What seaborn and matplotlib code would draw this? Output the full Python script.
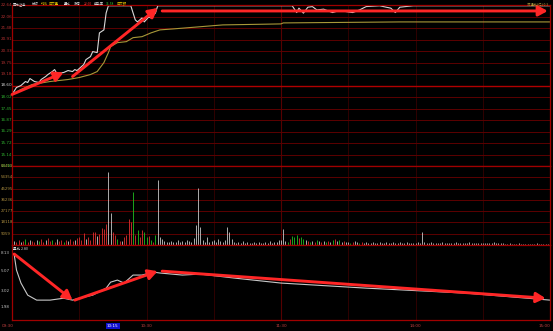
import matplotlib
matplotlib.use("Agg")
import matplotlib.pyplot as plt
import seaborn as sns
import pandas as pd

sns.set_style("dark", {"axes.facecolor": "black", "figure.facecolor": "black"})
plt.rcParams['font.family'] = ['Noto Sans CJK SC', 'DejaVu Sans']

# ---------------- data ----------------
prev_close = 18.60
price_step = 0.577

price_t = [0, 2, 4, 6, 7, 8, 10, 12, 13, 15, 16, 18, 19, 20, 23, 25, 27, 28, 29, 32,
           33, 35, 36, 38, 39, 41, 42, 43, 53, 55, 56, 58, 59, 61, 62, 64, 65, 125, 127, 128,
           130, 132, 134, 136, 139, 143, 146, 152, 155, 158, 164, 169, 171, 173, 179, 240]
price_v = [18.15, 18.50, 18.60, 18.80, 18.75, 18.95, 18.80, 18.75, 18.90, 19.05,
           19.15, 19.30, 19.40, 19.20, 19.25, 19.35, 19.30, 19.40, 19.35, 19.65,
           19.90, 20.05, 20.30, 20.25, 21.24, 21.39, 22.24, 22.60, 22.60, 21.89,
           21.79, 21.99, 21.79, 22.04, 21.99, 22.24, 22.60, 22.60, 22.26, 22.48,
           22.23, 22.53, 22.56, 22.39, 22.43, 22.26, 22.36, 22.26, 22.39, 22.56,
           22.60, 22.48, 22.26, 22.53, 22.60, 22.60]

avg_t = [0, 4, 9, 17, 25, 30, 35, 38, 41, 43, 44, 47, 51, 54, 58, 62, 66, 72, 83, 94, 120, 121, 173, 240]
avg_v = [18.15, 18.40, 18.65, 18.80, 18.90, 19.00, 19.15, 19.30, 19.75, 20.25, 20.55, 20.75,
         20.80, 21.00, 21.05, 21.24, 21.39, 21.44, 21.54, 21.64, 21.69, 21.74, 21.79, 21.79]

# volume per minute, in hundreds of lots
volume_hundreds = [
    48, 32, 24, 40, 24, 32, 48, 24, 40, 32,
    24, 40, 32, 48, 24, 40, 56, 32, 40, 24,
    48, 32, 40, 24, 40, 32, 48, 32, 40, 56,
    64, 40, 96, 48, 64, 40, 104, 104, 72, 88,
    136, 128, 168, 586, 257, 104, 80, 48, 32, 32,
    64, 80, 209, 185, 426, 80, 120, 64, 120, 104,
    64, 72, 40, 24, 80, 522, 64, 48, 32, 24,
    24, 32, 24, 24, 40, 24, 32, 24, 40, 32,
    24, 56, 161, 458, 145, 40, 24, 64, 24, 32,
    40, 24, 48, 32, 24, 40, 145, 104, 48, 24,
    16, 24, 16, 32, 16, 24, 16, 16, 24, 16,
    24, 16, 16, 24, 16, 32, 16, 24, 24, 40,
    40, 128, 32, 24, 48, 72, 64, 80, 56, 64,
    48, 40, 32, 24, 32, 24, 40, 32, 24, 32,
    24, 32, 24, 40, 48, 32, 40, 24, 32, 24,
    24, 16, 24, 32, 24, 16, 24, 16, 24, 16,
    16, 24, 16, 16, 24, 16, 16, 24, 16, 16,
    24, 16, 16, 24, 16, 16, 24, 16, 16, 16,
    16, 24, 16, 104, 24, 16, 16, 24, 16, 16,
    16, 16, 24, 16, 16, 16, 16, 16, 24, 16,
    16, 16, 16, 16, 24, 16, 16, 16, 16, 16,
    16, 16, 16, 16, 16, 24, 16, 16, 16, 16,
    8, 8, 16, 8, 8, 8, 16, 8, 8, 8,
    8, 8, 8, 8, 16, 8, 8, 8, 8, 8, 24]
volume_dir = ("rwrrwrgrwr" "rwgrrwrrgr" "wrrgrwrrwr" "rrrwrrrrwr" "rrrwwrrgrw"
              "rrrrgrgrrg" "grgrgwwwww" "wwwwwwwwww" "wwwwwwwwww" "wwwwwwwwww"
              "wwwwwwwwww" "wwwwwwwwww" "wwwgrgggrg" "gwrgwrgwrw" "grwgrwgwrw"
              "wgrwwgrwww" "wwwwwwwwww" "wwwwwwwwww" "wwwwwwwwww" "wwwwwwwwww"
              "wwwwwwwwww" "wwwwwwwwww" "wwwwwwwwww" "wwwwwwwwwww")
volume_max = 634.13

ratio_t = [0, 1, 2, 4, 7, 11, 17, 23, 27, 30, 36, 42, 44, 47, 50, 54, 58, 63, 66, 76, 84, 99, 120, 158, 203, 240]
ratio_v = [8.1, 7.7, 5.2, 3.7, 2.7, 2.37, 2.37, 2.49, 2.37, 2.49, 2.70, 3.24, 3.79, 4.00, 3.70,
           4.56, 4.56, 4.93, 4.81, 4.56, 4.68, 4.22, 3.70, 3.24, 2.84, 2.37]
ratio_ticks = [1.98, 3.02, 5.07, 8.13]

time_ticks = [0, 45, 60, 120, 180, 240]
time_labels = ["09:30", "10:15", "10:30", "11:30", "14:00", "15:00"]

header_items = [("国元证券", "#d8d8d8"), ("分时", "#d8d8d8"), ("均线", "#e0c000"),
                ("成交量", "#e0c000"), ("量比", "#d8d8d8"), ("涨停", "#d8d8d8"),
                ("22.60", "#ff3030"), ("换手率", "#d8d8d8"), ("11.58", "#30d030"),
                ("成交额", "#e0c000")]

# annotation arrows (tail, head) in data units
price_arrows = [((0, 18.15), (23, 19.25)), ((27, 19.05), (65, 22.49)), ((67, 22.34), (239, 22.34))]
ratio_arrows = [((1, 7.9), (27, 2.37)), ((28, 2.37), (65, 5.05)), ((67, 5.05), (238, 2.49))]

# ---------------- layout ----------------
W, H = 553, 331
fig = plt.figure(figsize=(W / 100, H / 100), dpi=100, facecolor="black")


def rect(top, bottom):
    return [12 / W, 1 - bottom / H, 538 / W, (bottom - top) / H]


axp = fig.add_axes(rect(5, 166))
axv = fig.add_axes(rect(166, 245))
axr = fig.add_axes(rect(245, 320))

GRID = "#5c0000"
BORDER = "#a00000"
VGRID = "#360000"
for ax in (axp, axv, axr):
    ax.set_facecolor("black")
    ax.set_xlim(0, 240)
    ax.set_xticks([])
    ax.set_yticks([])
    ax.grid(False)
    for s in ax.spines.values():
        s.set_color(BORDER)
        s.set_linewidth(0.9)
    for m in [30, 60, 90, 150, 180, 210]:
        ax.axvline(m, color=VGRID, lw=0.6, zorder=0)
    ax.axvline(120, color="#560000", lw=0.8, zorder=0)

# ---- price panel ----
levels = [prev_close + price_step * k for k in range(-7, 8)]
axp.set_ylim(levels[0], levels[-1])
ytr = axp.get_yaxis_transform()
for k, lv in zip(range(-7, 8), levels):
    if k == 0:
        axp.axhline(lv, color="#b00000", lw=1.0, zorder=0)
        col = "#d0d0d0"
    else:
        axp.axhline(lv, color=GRID, lw=0.7, zorder=0)
        col = "#b03030" if k > 0 else "#30b030"
    axp.text(-11.5 / 538, lv, f"{lv:.2f}", transform=ytr, ha="left", va="center",
             fontsize=3.0, color=col, family=["DejaVu Sans"])

sns.lineplot(x=avg_t, y=avg_v, ax=axp, color="#a89838", lw=0.8, estimator=None, sort=False)
sns.lineplot(x=price_t, y=price_v, ax=axp, color="#d8d8d8", lw=0.8, estimator=None, sort=False)
axp.set_ylim(levels[0], levels[-1])
axp.set_xlim(0, 240)

# header
xpos = [13, 32, 41, 49, 64, 74, 84, 94, 106, 117]
for (txt, col), xp in zip(header_items, xpos):
    fig.text(xp / W, 1 - 4 / H, txt, fontsize=2.4, color=col, ha="left", va="center")
fig.text(548 / W, 1 - 4 / H, "流通比(亿) 0.3", fontsize=2.4, color="#b0a040", ha="right", va="center")

arrow_props = dict(arrowstyle="-|>,head_length=0.55,head_width=0.3",
                   color="#ff2626", lw=2.1, shrinkA=0, shrinkB=0)
for tail, head in price_arrows:
    axp.annotate("", xy=head, xytext=tail, arrowprops=arrow_props)

# ---- volume panel ----
vdf = pd.DataFrame({"t": list(range(len(volume_hundreds))), "v": volume_hundreds,
                    "d": list(volume_dir[:len(volume_hundreds)])})
cmap = {"r": "#e03030", "g": "#20c020", "w": "#c8c8c8"}
axv.vlines(vdf["t"], 0, vdf["v"], colors=[cmap[d] for d in vdf["d"]], lw=0.6)
axv.set_ylim(0, volume_max)
vtr = axv.get_yaxis_transform()
for k in range(1, 8):
    val = volume_max * k / 7
    if k < 7:
        axv.axhline(val, color=GRID, lw=0.7, zorder=0)
    axv.text(-11.5 / 538, val, f"{val * 100:.0f}", transform=vtr, ha="left", va="center",
             fontsize=2.8, color="#b09040", family=["DejaVu Sans"])

# ---- ratio panel ----
axr.set_yscale("log")
sns.lineplot(x=ratio_t, y=ratio_v, ax=axr, color="#c8c8c8", lw=0.8, estimator=None, sort=False)
axr.set_ylim(1.41, 10.0)
axr.set_xlim(0, 240)
axr.set_yticks([])
axr.minorticks_off()
rtr = axr.get_yaxis_transform()
for v in ratio_ticks:
    axr.text(-11.5 / 538, v, f"{v:.2f}", transform=rtr, ha="left", va="center",
             fontsize=3.0, color="#c0c0c0", family=["DejaVu Sans"])
axr.text(1 / 538, 0.97, "量比 2.80", transform=axr.transAxes, ha="left", va="top",
         fontsize=2.6, color="#d8d8d8")
for tail, head in ratio_arrows:
    axr.annotate("", xy=head, xytext=tail, arrowprops=arrow_props)

# time labels
xtr = axr.get_xaxis_transform()
for t, lab in zip(time_ticks, time_labels):
    ha = "left" if t == 0 else ("right" if t == 240 else "center")
    xoff = -10 if t == 0 else 0
    if lab == "10:15":
        axr.text(t, -6 / 75, lab, transform=xtr, ha="center", va="center", fontsize=3.0,
                 color="white", family=["DejaVu Sans"],
                 bbox=dict(boxstyle="square,pad=0.25", fc="#1010d0", ec="none"))
    else:
        axr.text(t + xoff / 2.24, -6 / 75, lab, transform=xtr, ha=ha, va="center",
                 fontsize=3.0, color="#c04040", family=["DejaVu Sans"])

fig.savefig("out.png", dpi=100, facecolor="black")
